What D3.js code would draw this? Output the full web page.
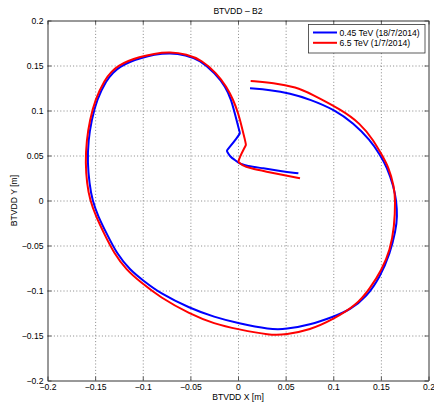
<!DOCTYPE html>
<html><head><meta charset="utf-8">
<script src="https://cdn.jsdelivr.net/npm/d3@7/dist/d3.min.js"></script>
<style>
html,body{margin:0;padding:0;background:#fff;}
svg{display:block;font-family:"Liberation Sans",Arial,Helvetica,sans-serif;}
</style></head>
<body><svg id="c" width="434" height="405"></svg>
<script>
const title = "BTVDD – B2";
const xLabel = "BTVDD X [m]";
const yLabel = "BTVDD Y [m]";
const xTicks = [-0.2,-0.15,-0.1,-0.05,0,0.05,0.1,0.15,0.2];
const xTickLabels = ["−0.2","−0.15","−0.1","−0.05","0","0.05","0.1","0.15","0.2"];
const yTicks = [-0.2,-0.15,-0.1,-0.05,0,0.05,0.1,0.15,0.2];
const yTickLabels = ["−0.2","−0.15","−0.1","−0.05","0","0.05","0.1","0.15","0.2"];
const seriesNames = ["0.45 TeV (18/7/2014)","6.5 TeV (1/7/2014)"];
const seriesColors = ["#0000ff","#ff0000"];

// [x, y] in metres
const blue = [
[0.0634,0.0302],[0.0441,0.0328],[0.0266,0.0358],[0.0091,0.0383],[0.0014,0.0413],[0.0014,0.0413],
[-0.0032,0.0450],[-0.0084,0.0487],[-0.0119,0.0553],[-0.0119,0.0553],[-0.0084,0.0598],[-0.0014,0.0691],
[0.0021,0.0747],[0.0021,0.0747],[0.0003,0.0820],[-0.0032,0.0960],[-0.0070,0.1117],[-0.0130,0.1264],
[-0.0240,0.1413],[-0.0399,0.1561],[-0.0550,0.1618],[-0.0714,0.1640],[-0.0880,0.1622],
[-0.1029,0.1580],[-0.1134,0.1542],[-0.1240,0.1487],[-0.1310,0.1424],[-0.1380,0.1339],[-0.1484,0.1117],[-0.1537,0.0894],
[-0.1572,0.0672],[-0.1580,0.0413],[-0.1560,0.0190],[-0.1530,0.0000],[-0.1467,-0.0180],
[-0.1380,-0.0365],[-0.1275,-0.0587],[-0.1134,-0.0772],[-0.0994,-0.0890],[-0.0819,-0.1031],
[-0.0504,-0.1198],[-0.0250,-0.1295],[0.0000,-0.1364],[0.0336,-0.1434],[0.0501,-0.1431],
[0.0756,-0.1383],[0.1001,-0.1291],[0.1176,-0.1217],[0.1352,-0.1069],[0.1492,-0.0847],
[0.1597,-0.0587],[0.1656,-0.0328],[0.1673,-0.0180],[0.1662,0.0000],
[0.1635,0.0153],[0.1562,0.0376],[0.1492,0.0506],[0.1387,0.0672],[0.1212,0.0858],
[0.1019,0.1006],[0.0756,0.1124],[0.0546,0.1191],[0.0336,0.1228],[0.0126,0.1247]
];
const red = [
[0.0651,0.0247],[0.0476,0.0283],[0.0301,0.0320],[0.0126,0.0358],[0.0039,0.0394],
[0.0003,0.0431],[0.0003,0.0431],[0.0021,0.0487],[0.0056,0.0561],[0.0084,0.0617],[0.0084,0.0617],[0.0074,0.0672],
[0.0039,0.0820],[0.0003,0.0969],[-0.0049,0.1117],[-0.0119,0.1264],[-0.0224,0.1413],
[-0.0381,0.1561],[-0.0540,0.1626],[-0.0714,0.1650],[-0.0880,0.1633],[-0.1047,0.1591],
[-0.1150,0.1552],[-0.1257,0.1498],[-0.1328,0.1433],[-0.1397,0.1346],[-0.1502,0.1117],[-0.1555,0.0894],[-0.1590,0.0672],
[-0.1602,0.0413],[-0.1586,0.0190],[-0.1555,0.0006],[-0.1490,-0.0180],[-0.1407,-0.0365],
[-0.1302,-0.0587],[-0.1171,-0.0772],[-0.1029,-0.0902],[-0.0819,-0.1076],[-0.0504,-0.1261],
[-0.0250,-0.1370],[0.0000,-0.1431],[0.0336,-0.1497],[0.0501,-0.1490],[0.0756,-0.1439],
[0.1001,-0.1320],[0.1246,-0.1161],[0.1386,-0.0976],[0.1509,-0.0772],[0.1597,-0.0550],
[0.1642,-0.0291],[0.1652,0.0000],[0.1640,0.0153],[0.1580,0.0376],[0.1510,0.0506],
[0.1421,0.0672],[0.1282,0.0858],[0.1089,0.1006],[0.0756,0.1191],[0.0616,0.1258],
[0.0371,0.1309],[0.0133,0.1328]
];

const L = 47.5, R = 428.5, T = 20.5, B = 380.5;
const W = R - L, H = B - T;
const fs = 8.6;
const svg = d3.select("#c");
const x = d3.scaleLinear().domain([-0.2,0.2]).range([L,R]);
const y = d3.scaleLinear().domain([-0.2,0.2]).range([B,T]);

// grid
const gridX = svg.append("g").attr("transform",`translate(0,${B})`)
  .call(d3.axisBottom(x).tickValues(xTicks.slice(1,-1)).tickSize(-H).tickFormat(""));
const gridY = svg.append("g").attr("transform",`translate(${L},0)`)
  .call(d3.axisLeft(y).tickValues(yTicks.slice(1,-1)).tickSize(-W).tickFormat(""));
[gridX,gridY].forEach(g=>{
  g.select(".domain").remove();
  g.selectAll("line").attr("stroke","#555").attr("stroke-width",0.7).attr("stroke-dasharray","1,2.2");
});

// curves
const line = d3.line().x(d=>x(d[0])).y(d=>y(d[1])).curve(d3.curveBasis);
svg.append("path").datum(blue).attr("d",line).attr("fill","none")
  .attr("stroke",seriesColors[0]).attr("stroke-width",2).attr("stroke-linejoin","round");
svg.append("path").datum(red).attr("d",line).attr("fill","none")
  .attr("stroke",seriesColors[1]).attr("stroke-width",2).attr("stroke-linejoin","round");

// axes
const fmtX = (d,i)=>xTickLabels[i], fmtY = (d,i)=>yTickLabels[i];
const ax = svg.append("g").attr("transform",`translate(0,${B})`)
  .call(d3.axisBottom(x).tickValues(xTicks).tickFormat(fmtX).tickSizeInner(-4).tickSizeOuter(0).tickPadding(3));
const ay = svg.append("g").attr("transform",`translate(${L},0)`)
  .call(d3.axisLeft(y).tickValues(yTicks).tickFormat(fmtY).tickSizeInner(-4).tickSizeOuter(0).tickPadding(4));
const at = svg.append("g").attr("transform",`translate(0,${T})`)
  .call(d3.axisTop(x).tickValues(xTicks).tickFormat("").tickSizeInner(-4).tickSizeOuter(0));
const ar = svg.append("g").attr("transform",`translate(${R},0)`)
  .call(d3.axisRight(y).tickValues(yTicks).tickFormat("").tickSizeInner(-4).tickSizeOuter(0));
[ax,ay,at,ar].forEach(g=>{
  g.select(".domain").attr("stroke","#333").attr("stroke-width",1);
  g.selectAll(".tick line").attr("stroke","#333").attr("stroke-width",0.8);
  g.selectAll("text").attr("font-size",fs).attr("fill","#000")
   .attr("font-family","'Liberation Sans',Arial,sans-serif");
});

// titles
svg.append("text").attr("x",(L+R)/2).attr("y",14).attr("text-anchor","middle")
  .attr("font-size",fs).text(title);
svg.append("text").attr("x",(L+R)/2).attr("y",400).attr("text-anchor","middle")
  .attr("font-size",fs).text(xLabel);
svg.append("text").attr("transform",`translate(17,${(T+B)/2}) rotate(-90)`)
  .attr("text-anchor","middle").attr("font-size",fs).text(yLabel);

// legend
const lg = svg.append("g");
lg.append("rect").attr("x",308.5).attr("y",24.5).attr("width",116.5).attr("height",28.5)
  .attr("fill","#fff").attr("stroke","#333").attr("stroke-width",0.8);
seriesNames.forEach((n,i)=>{
  const yy = 32.5 + i*10.3;
  lg.append("line").attr("x1",313).attr("x2",337).attr("y1",yy).attr("y2",yy)
    .attr("stroke",seriesColors[i]).attr("stroke-width",2);
  lg.append("text").attr("x",339.5).attr("y",yy+3.1).attr("font-size",fs).text(n);
});
</script></body></html>
